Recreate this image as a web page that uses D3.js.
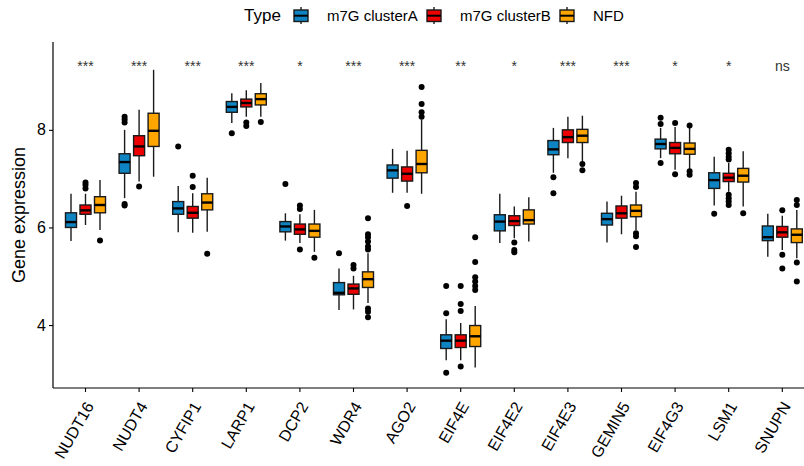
<!DOCTYPE html>
<html>
<head>
<meta charset="utf-8">
<script src="https://cdn.jsdelivr.net/npm/d3@7"></script>
<style>
  body { margin: 0; background: #fff; }
  svg { font-family: "Liberation Sans", Arial, sans-serif; display: block; }
</style>
</head>
<body>
<svg width="804" height="466"></svg>
<script>
/********** Data **********/
var genes = ["NUDT16", "NUDT4", "CYFIP1", "LARP1", "DCP2", "WDR4", "AGO2",
             "EIF4E", "EIF4E2", "EIF4E3", "GEMIN5", "EIF4G3", "LSM1", "SNUPN"];
var groups = ["m7G clusterA", "m7G clusterB", "NFD"];
var colors = ["#0E84C2", "#EE0000", "#FFA500"];
var sigLabels = ["***", "***", "***", "***", "*", "***", "***", "**", "*", "***", "***", "*", "*", "ns"];
var yTicks = [4, 6, 8];

// [lower whisker, q1, median, q3, upper whisker]
var statsA = [
  [5.72, 6.00, 6.11, 6.30, 6.69], [6.60, 7.11, 7.34, 7.51, 8.00], [5.90, 6.27, 6.39, 6.53, 6.85],
  [8.14, 8.36, 8.47, 8.58, 8.75], [5.73, 5.91, 6.02, 6.12, 6.29], [4.31, 4.62, 4.66, 4.87, 5.16],
  [6.71, 7.01, 7.17, 7.28, 7.61], [3.28, 3.52, 3.68, 3.80, 4.12], [5.68, 5.93, 6.12, 6.26, 6.69],
  [7.12, 7.49, 7.60, 7.78, 8.04], [5.69, 6.05, 6.17, 6.29, 6.53], [7.42, 7.61, 7.71, 7.81, 8.04],
  [6.45, 6.80, 6.97, 7.12, 7.45], [5.40, 5.73, 5.80, 6.03, 6.28]
];
var statsB = [
  [6.05, 6.27, 6.35, 6.46, 6.69], [6.94, 7.47, 7.66, 7.88, 8.41], [5.89, 6.19, 6.30, 6.43, 6.70],
  [8.27, 8.47, 8.55, 8.63, 8.81], [5.68, 5.86, 5.96, 6.07, 6.27], [4.32, 4.63, 4.75, 4.84, 5.01],
  [6.71, 6.95, 7.10, 7.24, 7.57], [3.28, 3.54, 3.68, 3.80, 4.04], [5.78, 6.04, 6.13, 6.24, 6.43],
  [7.42, 7.74, 7.85, 8.00, 8.27], [5.86, 6.19, 6.29, 6.44, 6.65], [7.18, 7.51, 7.63, 7.74, 8.06],
  [6.73, 6.94, 7.02, 7.11, 7.32], [5.54, 5.80, 5.90, 6.02, 6.24]
];
var statsN = [
  [5.95, 6.30, 6.46, 6.63, 6.97], [7.04, 7.66, 7.98, 8.34, 9.23], [5.91, 6.36, 6.51, 6.69, 7.02],
  [8.27, 8.51, 8.63, 8.74, 8.96], [5.50, 5.80, 5.93, 6.07, 6.36], [4.45, 4.77, 4.94, 5.09, 5.47],
  [6.69, 7.12, 7.30, 7.58, 8.21], [3.13, 3.56, 3.77, 3.99, 4.39], [5.71, 6.07, 6.15, 6.36, 6.62],
  [7.35, 7.74, 7.88, 8.01, 8.29], [5.95, 6.22, 6.34, 6.46, 6.73], [7.19, 7.50, 7.61, 7.73, 8.04],
  [6.43, 6.93, 7.06, 7.21, 7.56], [5.37, 5.69, 5.85, 5.97, 6.36]
];
var outA = [
  [], [8.27, 8.21, 8.15, 6.48, 6.45], [7.66], [7.93], [6.89], [5.47], [],
  [4.80, 4.24, 3.02], [], [7.03, 6.70], [], [8.25, 8.12, 7.32], [6.28], []
];
var outB = [
  [6.92, 6.87, 6.80], [6.84], [7.06, 6.83], [8.15, 8.08], [6.45, 6.38, 5.55], [5.23, 5.16], [6.44],
  [4.80, 4.43, 4.29, 3.15], [5.69, 5.54, 5.49], [], [], [8.14, 7.09],
  [7.59, 7.52, 7.45, 7.39, 6.67, 6.60, 6.53, 6.46], [6.35, 5.44, 5.16]
];
var outN = [
  [5.73], [], [5.46], [8.16], [5.38], [6.19, 5.86, 5.80, 5.71, 5.61, 5.55, 4.34, 4.27, 4.16],
  [8.88, 8.53, 8.36, 8.27], [5.80, 5.29, 4.98, 4.89, 4.80, 4.72], [], [7.30, 7.17],
  [6.91, 6.83, 5.88, 5.82, 5.60], [8.09, 7.15, 7.08], [6.29], [6.56, 6.46, 5.28, 4.89]
];
var allStats = [statsA, statsB, statsN];
var allOut = [outA, outB, outN];

/********** Layout **********/
var svg = d3.select("svg");
var panel = {left: 53, right: 804, top: 42, bottom: 388};
var step = 53.6;

var x = d3.scaleBand()
    .domain(genes)
    .range([85.5 - step / 2, 85.5 - step / 2 + genes.length * step]);

var xg = d3.scaleBand()
    .domain(groups)
    .range([-21.75, 21.75]);

var y = d3.scaleLinear()
    .domain([2.71, 9.8])
    .range([panel.bottom, panel.top]);

var boxW = xg.bandwidth() * 0.76;

/********** Boxes **********/
var rows = [];
groups.forEach(function(g, gi) {
  genes.forEach(function(gene, i) {
    rows.push({gene: gene, group: g, gi: gi, s: allStats[gi][i], out: allOut[gi][i]});
  });
});

var plot = svg.append("g");

var box = plot.selectAll("g.box")
    .data(rows)
    .enter().append("g")
    .attr("class", "box")
    .attr("transform", function(d) {
      return "translate(" + (x(d.gene) + x.bandwidth() / 2 + xg(d.group) + xg.bandwidth() / 2) + ",0)";
    });

// whiskers
box.append("line")
    .attr("x1", 0).attr("x2", 0)
    .attr("y1", function(d) { return y(d.s[0]); })
    .attr("y2", function(d) { return y(d.s[4]); })
    .attr("stroke", "#1a1a1a")
    .attr("stroke-width", 1.4);

box.append("rect")
    .attr("x", -boxW / 2)
    .attr("width", boxW)
    .attr("y", function(d) { return y(d.s[3]); })
    .attr("height", function(d) { return y(d.s[1]) - y(d.s[3]); })
    .attr("fill", function(d) { return colors[d.gi]; })
    .attr("stroke", "#1a1a1a")
    .attr("stroke-width", 1.4);

box.append("line")
    .attr("x1", -boxW / 2).attr("x2", boxW / 2)
    .attr("y1", function(d) { return y(d.s[2]); })
    .attr("y2", function(d) { return y(d.s[2]); })
    .attr("stroke", "#000")
    .attr("stroke-width", 2.4);

box.selectAll("circle")
    .data(function(d) { return d.out; })
    .enter().append("circle")
    .attr("cx", 0)
    .attr("cy", function(v) { return y(v); })
    .attr("r", 3)
    .attr("fill", "#000");

/********** Significance **********/
plot.selectAll("text.sig")
    .data(genes)
    .enter().append("text")
    .attr("class", "sig")
    .attr("x", function(d) { return x(d) + x.bandwidth() / 2; })
    .attr("y", 71)
    .attr("text-anchor", "middle")
    .attr("font-size", 14)
    .attr("fill", "#333")
    .text(function(d, i) { return sigLabels[i]; });

/********** Axes **********/
var xAxis = svg.append("g")
    .attr("transform", "translate(0," + panel.bottom + ")")
    .call(d3.axisBottom(x).tickSizeOuter(0).tickSize(4));
xAxis.select(".domain").attr("d", "M" + panel.left + ",0H" + panel.right).attr("stroke-width", 1.2);
xAxis.selectAll(".tick line").attr("stroke-width", 1.1);
xAxis.selectAll(".tick text")
    .attr("font-size", 16)
    .attr("fill", "#000")
    .attr("text-anchor", "end")
    .attr("x", 0)
    .attr("y", 0)
    .attr("dy", null)
    .attr("transform", "translate(9,18) rotate(-60)");

var yAxis = svg.append("g")
    .attr("transform", "translate(" + panel.left + ",0)")
    .call(d3.axisLeft(y).tickValues(yTicks).tickSize(4).tickSizeOuter(0).tickPadding(3));
yAxis.select(".domain").attr("d", "M0," + panel.top + "V" + panel.bottom).attr("stroke-width", 1.2);
yAxis.selectAll(".tick line").attr("stroke-width", 1.1);
yAxis.selectAll(".tick text").attr("font-size", 16).attr("fill", "#000");

svg.append("text")
    .attr("transform", "translate(25," + (panel.top + panel.bottom) / 2 + ") rotate(-90)")
    .attr("text-anchor", "middle")
    .attr("font-size", 18)
    .text("Gene expression");

/********** Legend **********/
var legend = svg.append("g");
legend.append("text")
    .attr("x", 244).attr("y", 21)
    .attr("font-size", 17)
    .text("Type");

var keyX = [294, 427, 560];
var key = legend.selectAll("g.key")
    .data(groups)
    .enter().append("g")
    .attr("class", "key")
    .attr("transform", function(d, i) { return "translate(" + keyX[i] + ",0)"; });

key.append("line")
    .attr("x1", 7).attr("x2", 7).attr("y1", 7).attr("y2", 24)
    .attr("stroke", "#1a1a1a").attr("stroke-width", 1.4);
key.append("rect")
    .attr("x", 0).attr("y", 10).attr("width", 14).attr("height", 11.5)
    .attr("fill", function(d, i) { return colors[i]; })
    .attr("stroke", "#1a1a1a").attr("stroke-width", 1.4);
key.append("line")
    .attr("x1", 0).attr("x2", 14).attr("y1", 15.7).attr("y2", 15.7)
    .attr("stroke", "#000").attr("stroke-width", 2);
key.append("text")
    .attr("x", 33).attr("y", 21)
    .attr("font-size", 15)
    .text(function(d) { return d; });
</script>
</body>
</html>
